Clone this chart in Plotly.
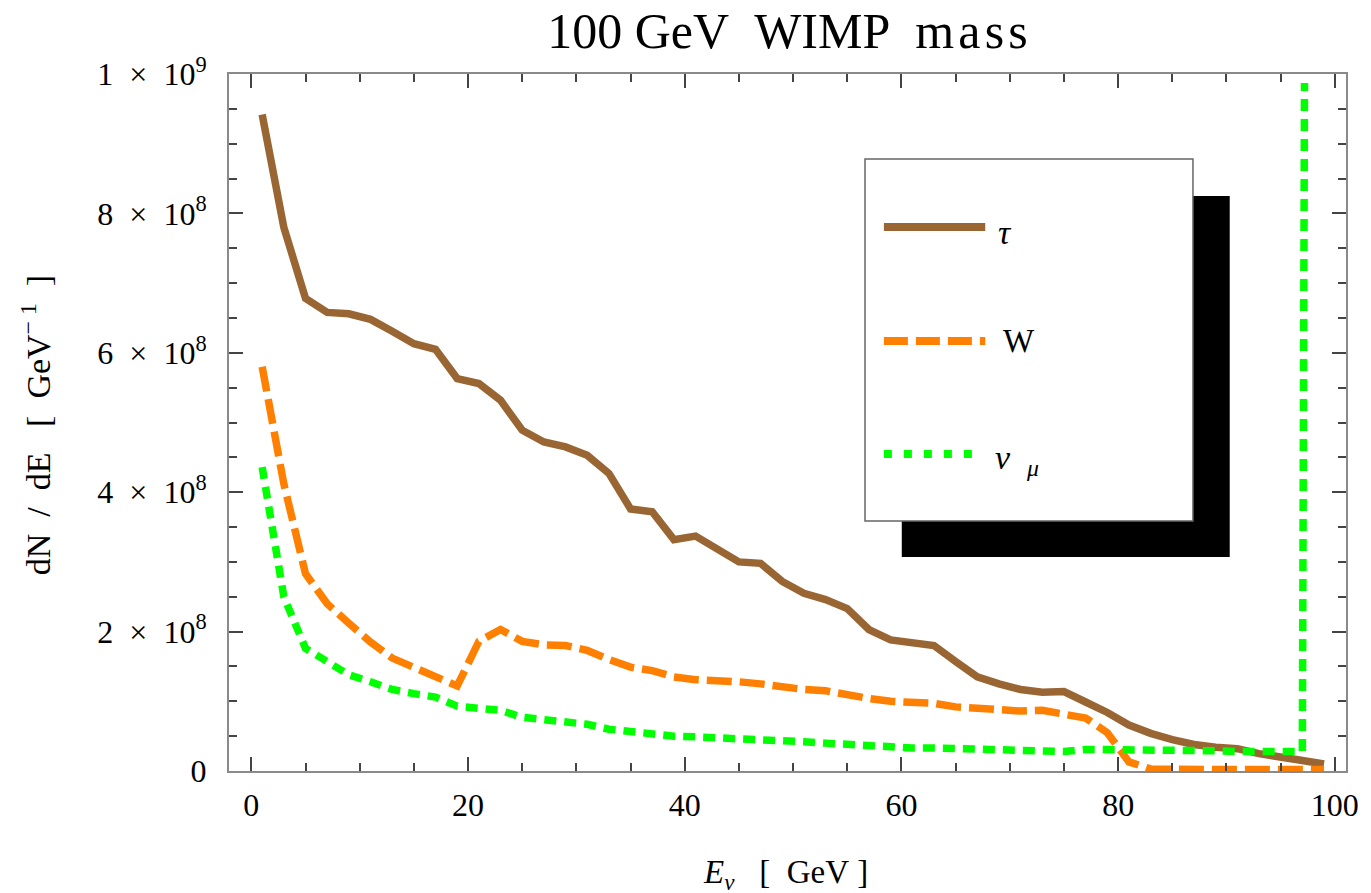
import plotly.graph_objects as go

# ---------------- data (dN/dE in units of 1e8 GeV^-1) ----------------
E_tau = list(range(1, 100, 2))
tau_vals = [9.42, 7.80, 6.78, 6.58, 6.56, 6.48, 6.31, 6.13, 6.05, 5.63,
            5.56, 5.32, 4.89, 4.72, 4.65, 4.53, 4.27, 3.76, 3.72, 3.32,
            3.37, 3.20, 3.00, 2.98, 2.72, 2.55, 2.46, 2.33, 2.03, 1.88,
            1.84, 1.80, 1.57, 1.35, 1.25, 1.17, 1.13, 1.14, 0.99, 0.84,
            0.66, 0.54, 0.45, 0.38, 0.34, 0.32, 0.25, 0.19, 0.15, 0.10]

E_W = list(range(1, 100, 2))
W_vals = [5.80, 4.12, 2.83, 2.40, 2.12, 1.85, 1.62, 1.48, 1.36, 1.22,
          1.86, 2.03, 1.86, 1.81, 1.80, 1.73, 1.60, 1.49, 1.44, 1.35,
          1.31, 1.30, 1.28, 1.25, 1.20, 1.17, 1.15, 1.09, 1.04, 1.00,
          0.99, 0.97, 0.92, 0.90, 0.88, 0.86, 0.87, 0.82, 0.76, 0.55,
          0.13, 0.03, 0.02, 0.02, 0.02, 0.02, 0.02, 0.02, 0.02, 0.02]

E_nu = list(range(1, 98, 2)) + [97.2]
nu_vals = [4.36, 2.50, 1.76, 1.57, 1.38, 1.28, 1.17, 1.11, 1.06, 0.93,
           0.90, 0.87, 0.77, 0.74, 0.71, 0.67, 0.60, 0.56, 0.54, 0.50,
           0.49, 0.48, 0.47, 0.46, 0.44, 0.42, 0.40, 0.38, 0.36, 0.34,
           0.33, 0.33, 0.32, 0.31, 0.30, 0.29, 0.28, 0.28, 0.31, 0.31,
           0.30, 0.30, 0.29, 0.29, 0.29, 0.28, 0.28, 0.28, 0.28, 9.87]

SCALE = 1e8

x_tick_vals = [0, 20, 40, 60, 80, 100]
x_tick_text = ["0", "20", "40", "60", "80", "100"]
y_tick_vals = [0, 2e8, 4e8, 6e8, 8e8, 1e9]
y_tick_text = ["0",
               "2\u00a0\u00a0×\u00a0\u00a010<sup>8</sup>",
               "4\u00a0\u00a0×\u00a0\u00a010<sup>8</sup>",
               "6\u00a0\u00a0×\u00a0\u00a010<sup>8</sup>",
               "8\u00a0\u00a0×\u00a0\u00a010<sup>8</sup>",
               "1\u00a0\u00a0×\u00a0\u00a010<sup>9</sup>"]

series_names = ["τ", "W", "ν_μ"]
BROWN = "#996633"
ORANGE = "#ff8000"
GREEN = "#00ff00"
FONT = "Liberation Serif"
NB = "\u00a0"

fig = go.Figure()
fig.add_trace(go.Scatter(x=E_tau, y=[v * SCALE for v in tau_vals], mode="lines",
                         name=series_names[0], line=dict(color=BROWN, width=7.5)))
fig.add_trace(go.Scatter(x=E_W, y=[v * SCALE for v in W_vals], mode="lines",
                         name=series_names[1], line=dict(color=ORANGE, width=7.5, dash="25px,8px")))
fig.add_trace(go.Scatter(x=E_nu, y=[v * SCALE for v in nu_vals], mode="lines",
                         name=series_names[2], line=dict(color=GREEN, width=7.5, dash="12px,8px")))

# page offset (default body margin of the html page)
OFF = 8
W_FIG, H_FIG = 1371 - OFF, 893 - OFF
# plot-area edges in page pixels
P_LEFT, P_RIGHT, P_TOP, P_BOTTOM = 229, 1353, 74, 771
L = P_LEFT - OFF
T = P_TOP - OFF
R = 1371 - P_RIGHT
B = 893 - P_BOTTOM
PW, PH = P_RIGHT - P_LEFT, P_BOTTOM - P_TOP


def px(xp):
    return (xp - P_LEFT) / PW


def py(yp):
    return (P_BOTTOM - yp) / PH


axis_common = dict(
    showline=True, linecolor="#8a8a8a", linewidth=2, mirror="allticks",
    ticks="inside", ticklen=14, tickwidth=1.5, tickcolor="#444444",
    showgrid=False, zeroline=False,
    tickfont=dict(family=FONT, size=32, color="black"),
)

fig.update_layout(
    width=W_FIG, height=H_FIG,
    margin=dict(l=L, r=R, t=T, b=B),
    paper_bgcolor="white", plot_bgcolor="white",
    showlegend=False,
    title=dict(text="100" + NB + "GeV" + NB * 2 + "WIMP" + NB * 2 + "m\u200aa\u200as\u200as",
               font=dict(family=FONT, size=50, color="black"),
               x=0.5, xref="paper", xanchor="center",
               y=1 - (30 - OFF) / H_FIG, yref="container", yanchor="middle"),
    xaxis=dict(range=[-2.06, 101.03], tickmode="array", tickvals=x_tick_vals,
               ticktext=x_tick_text, ticklabelstandoff=5,
               minor=dict(ticks="inside", ticklen=8, tickwidth=1.5, tickcolor="#444444",
                          tickmode="linear", tick0=0, dtick=5, showgrid=False),
               **axis_common),
    yaxis=dict(range=[0, 1e9], tickmode="array", tickvals=y_tick_vals,
               ticktext=y_tick_text, ticklabelstandoff=14,
               minor=dict(ticks="inside", ticklen=8, tickwidth=1.5, tickcolor="#444444",
                          tickmode="linear", tick0=0, dtick=5e7, showgrid=False),
               **axis_common),
)

# axis titles
ytitle = ("dN" + NB * 2 + "/" + NB * 2 + "dE" + NB * 3 + "[" + NB * 2 + "GeV<sup>\u2212" + NB + "1</sup>"
          + NB * 2 + "]")
fig.add_annotation(text=ytitle,
                   xref="paper", yref="paper", x=px(35), y=py(425),
                   xanchor="center", yanchor="middle", textangle=-90, showarrow=False,
                   font=dict(family=FONT, size=34, color="black"))
xtitle = "<i>E</i><sub><i>ν</i></sub>" + NB * 3 + "[" + NB * 2 + "GeV" + NB + "]"
fig.add_annotation(text=xtitle,
                   xref="paper", yref="paper", x=px(789), y=py(874),
                   xanchor="center", yanchor="middle", showarrow=False,
                   font=dict(family=FONT, size=33, color="black"))

# legend: shadow, box, samples, labels
fig.add_shape(type="rect", xref="paper", yref="paper",
              x0=px(906), x1=px(1236), y0=py(557), y1=py(196),
              fillcolor="black", line=dict(width=0), layer="above")
fig.add_shape(type="rect", xref="paper", yref="paper",
              x0=px(869), x1=px(1199), y0=py(521), y1=py(159),
              fillcolor="white", line=dict(color="#666666", width=1.5), layer="above")
fig.add_shape(type="line", xref="paper", yref="paper",
              x0=px(888), x1=px(990), y0=py(227), y1=py(227),
              line=dict(color=BROWN, width=8), layer="above")
fig.add_shape(type="line", xref="paper", yref="paper",
              x0=px(888), x1=px(990), y0=py(341), y1=py(341),
              line=dict(color=ORANGE, width=8, dash="24px,8px"), layer="above")
fig.add_shape(type="line", xref="paper", yref="paper",
              x0=px(888), x1=px(978), y0=py(454), y1=py(454),
              line=dict(color=GREEN, width=8, dash="8px,12px"), layer="above")

fig.add_annotation(text="<i>τ</i>", xref="paper", yref="paper", x=px(1001), y=py(232),
                   xanchor="left", yanchor="middle", showarrow=False,
                   font=dict(family=FONT, size=34, color="black"))
fig.add_annotation(text="W", xref="paper", yref="paper", x=px(1006), y=py(341),
                   xanchor="left", yanchor="middle", showarrow=False,
                   font=dict(family=FONT, size=33, color="black"))
fig.add_annotation(text="<i>ν</i>" + NB * 2 + "<sub><i>μ</i></sub>", xref="paper", yref="paper",
                   x=px(998), y=py(460), xanchor="left", yanchor="middle", showarrow=False,
                   font=dict(family=FONT, size=34, color="black"))

fig.write_html("out.html")
